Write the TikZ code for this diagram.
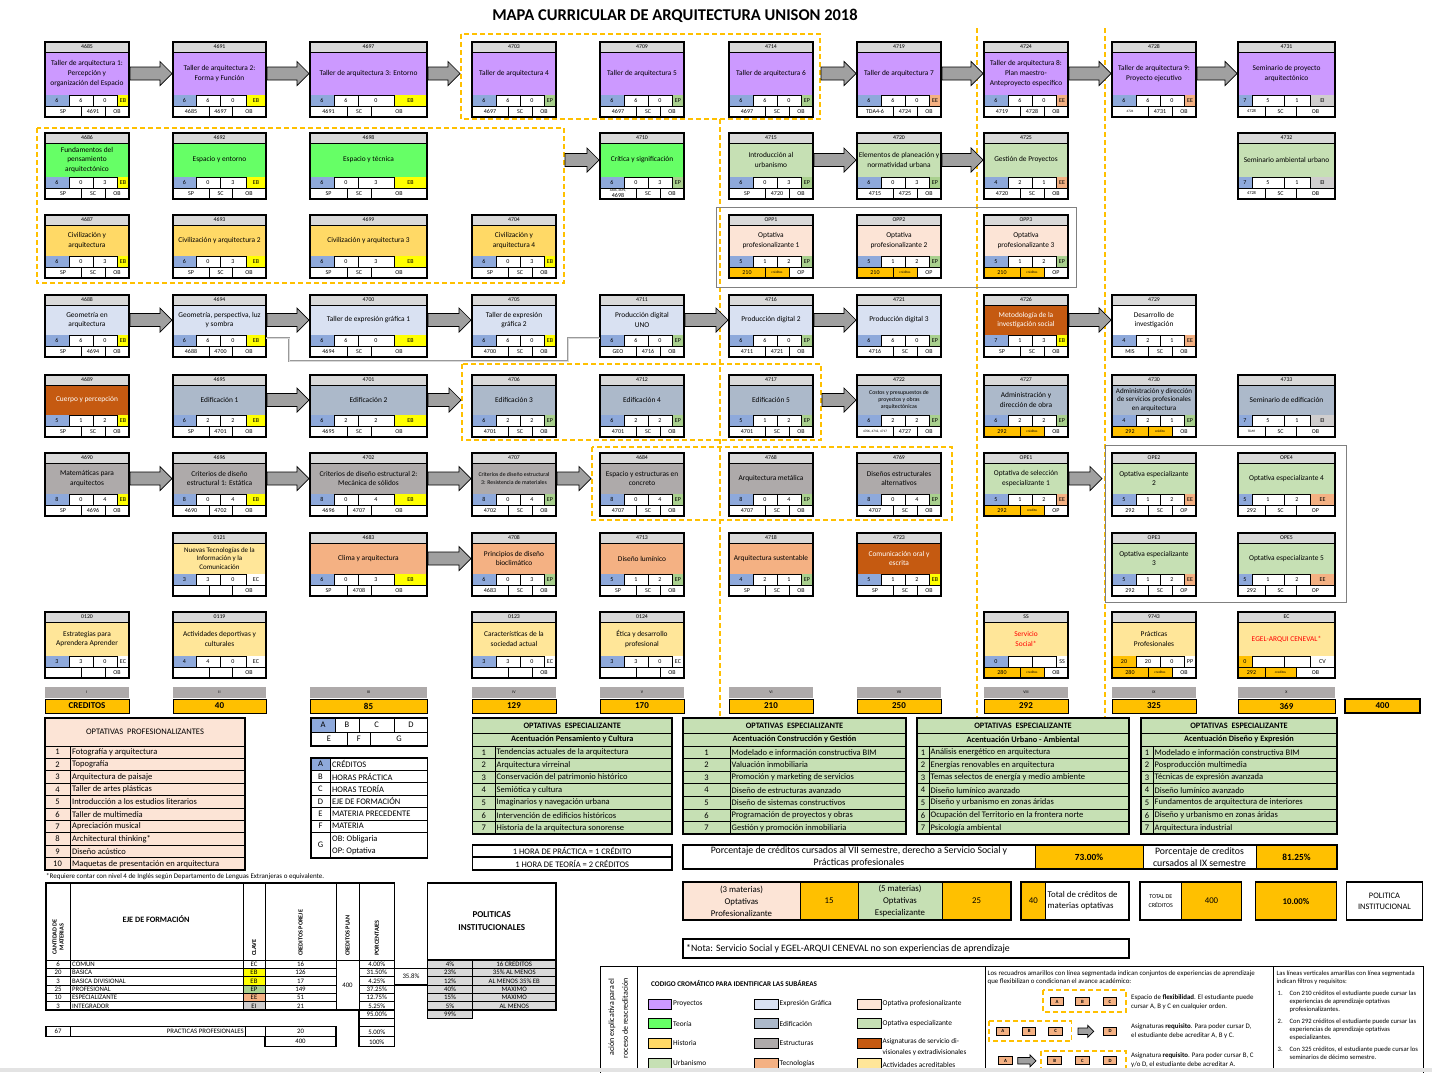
\documentclass[tikz,border=0pt]{standalone}
\usepackage{fontspec}
\setmainfont{Carlito}
\usetikzlibrary{positioning, calc}

\definecolor{proyectos}{RGB}{204,153,255}
\definecolor{teoria}{RGB}{102,255,102}
\definecolor{historia}{RGB}{255,217,102}
\definecolor{urbanismo}{RGB}{198,224,180}
\definecolor{expresion}{RGB}{217,225,242}
\definecolor{edificacion}{RGB}{172,185,202}
\definecolor{estructuras}{RGB}{174,170,170}
\definecolor{tecnologias}{RGB}{244,177,131}
\definecolor{optprof}{RGB}{252,228,214}
\definecolor{optesp}{RGB}{198,224,180}
\definecolor{servicio}{RGB}{197,90,17}
\definecolor{acreditables}{RGB}{255,230,153}
\definecolor{encabezado}{RGB}{217,217,217}
\definecolor{azul}{RGB}{142,169,219}
\definecolor{ejeEB}{RGB}{255,255,0}
\definecolor{ejeEP}{RGB}{169,208,142}
\definecolor{ejeEE}{RGB}{244,177,131}
\definecolor{ejeEI}{RGB}{208,206,206}
\definecolor{ejeEC}{RGB}{255,255,255}
\definecolor{ejeSS}{RGB}{255,255,255}
\definecolor{ejePP}{RGB}{255,255,255}
\definecolor{ejeCV}{RGB}{255,255,255}
\definecolor{naranja}{RGB}{255,192,0}
\definecolor{grisflecha}{RGB}{160,160,160}
\definecolor{grissem}{RGB}{174,170,170}
\definecolor{grispol}{RGB}{217,217,217}
\definecolor{rojo}{RGB}{255,0,0}

\newcommand{\normalcaja}{\fontsize{7.4}{9.8}\selectfont}
\newcommand{\pequena}{\fontsize{5.8}{7.4}\selectfont}
\newcommand{\chica}{\fontsize{4.4}{4.8}\selectfont}
\newcommand{\diminuta}{\fontsize{3.4}{3.9}\selectfont}

\pgfkeys{/materia/.is family, /materia/.cd,
  x/.store in=\mX, y/.store in=\mY, ancho/.store in=\mW, alto/.store in=\mH,
  sa/.store in=\mSa, sb/.store in=\mSb, sc/.store in=\mSc,
  ta/.store in=\mTa, tb/.store in=\mTb,
  colA/.store in=\mColA, colE/.store in=\mColE, colF/.store in=\mColF,
  tinta/.store in=\mTinta, letra/.store in=\mLetra,
  angosta/.style={ancho=84, sa=24, sb=48, sc=72, ta=36, tb=60},
  c1/.style={angosta, x=45},
  c2/.style={x=173, ancho=93, sa=23, sb=47, sc=73, ta=36, tb=59},
  c3/.style={x=310, ancho=117, sa=24, sb=48, sc=84, ta=37, tb=61},
  c4/.style={angosta, x=472},
  c5/.style={angosta, x=600},
  c6/.style={angosta, x=729},
  c7/.style={angosta, x=857},
  c8/.style={angosta, x=984},
  c9/.style={angosta, x=1112},
  c10/.style={x=1238, ancho=97, sa=14, sb=46, sc=72, ta=27, tb=58},
  r1/.style={y=42, alto=75},
  r2/.style={y=133, alto=66},
  r3/.style={y=215, alto=63},
  r4/.style={y=295, alto=62},
  r5/.style={y=375, alto=62},
  r6/.style={y=453, alto=63},
  r7/.style={y=533, alto=63},
  r8/.style={y=612, alto=66}}

\tikzset{
  clave/.style={inner sep=0pt, font=\fontsize{5.8}{6}\selectfont},
  cuerpo/.style={inner sep=1pt, outer sep=0pt, align=center, draw=black, line width=.4pt},
  dato/.style={inner sep=0pt, align=center, font=\fontsize{6}{6.5}\selectfont},
  rejilla/.style={line width=.4pt},
  grupo/.style={draw=naranja, line width=1.6pt, dash pattern=on 5pt off 3pt},
  marco/.style={draw=gray, line width=1pt},
  flecha/.style={draw=black, fill=grisflecha, line width=.7pt},
  enlace/.style={draw=gray!80, double=gray!30, double distance=1pt, line width=.7pt},
  tabla/.style={inner sep=0pt, font=\fontsize{8.5}{9}\selectfont},
  tablan/.style={inner sep=0pt, font=\fontsize{8.3}{9}\selectfont\bfseries},
  celda/.style={inner sep=0pt, font=\fontsize{6.8}{7}\selectfont},
  leyenda/.style={inner sep=0pt, font=\fontsize{7.4}{8}\selectfont},
  nota/.style={inner sep=0pt, align=left, font=\fontsize{6.9}{8.8}\selectfont},
  filtro/.style={inner sep=0pt, align=left, font=\fontsize{6.6}{7.9}\selectfont}
}

\def\celdas#1#2/#3/#4/#5/#6/#7/#8\relax{%
  \fill[fill=\mColA] (\mX,\mYa) rectangle (\mX+\mSa,\mYb);
  \fill[fill=eje#5] (\mX+\mSc,\mYa) rectangle (\mX+\mW,\mYb);
  \fill[fill=\mColE] (\mX,\mYb) rectangle (\mX+\mTa,\mYc);
  \fill[fill=\mColF] (\mX+\mTa,\mYb) rectangle (\mX+\mTb,\mYc);
  \draw[rejilla] (\mX,\mYb) -- (\mX+\mW,\mYb)
    (\mX+\mSa,\mYa) -- (\mX+\mSa,\mYb) (\mX+\mSb,\mYa) -- (\mX+\mSb,\mYb)
    (\mX+\mSc,\mYa) -- (\mX+\mSc,\mYb)
    (\mX+\mTa,\mYb) -- (\mX+\mTa,\mYc) (\mX+\mTb,\mYb) -- (\mX+\mTb,\mYc);
  \node[dato] (#1-a) at (\mX+\mSa/2,\mYa+5.5) {#2};
  \node[dato] (#1-b) at (\mX+\mSa/2+\mSb/2,\mYa+5.5) {#3};
  \node[dato] (#1-cc) at (\mX+\mSb/2+\mSc/2,\mYa+5.5) {#4};
  \node[dato] (#1-d) at (\mX+\mSc/2+\mW/2,\mYa+5.5) {#5};
  \node[dato] (#1-e) at (\mX+\mTa/2,\mYb+5.5) {#6};
  \node[dato] (#1-f) at (\mX+\mTa/2+\mTb/2,\mYb+5.5) {#7};
  \node[dato] (#1-g) at (\mX+\mTb/2+\mW/2,\mYb+5.5) {#8};
}

\newcommand{\materia}[5][]{%
  \pgfkeys{/materia/.cd, colA=azul, colE=white, colF=white, tinta=black,
    letra=\normalcaja, #1}%
  \pgfmathsetmacro{\mYa}{\mY+\mH-22}%
  \pgfmathsetmacro{\mYb}{\mY+\mH-11}%
  \pgfmathsetmacro{\mYc}{\mY+\mH}%
  \pgfmathsetmacro{\mHc}{\mH-32}%
  \filldraw[fill=encabezado, rejilla] (\mX,\mY) rectangle (\mX+\mW,\mY+10);
  \node[clave] (#2-c) at (\mX+\mW/2,\mY+5) {#2};
  \node[cuerpo, fill=#3, text=\mTinta, font=\mLetra, minimum width=\mW pt,
    minimum height=\mHc pt, anchor=north west] (#2) at (\mX,\mY+10) {#4};
  \celdas{#2}#5\relax
  \draw[line width=1.5pt] (\mX,\mY) rectangle (\mX+\mW,\mYc);
}

\newcommand{\flecha}[3][1]{%
  \draw[flecha] let \p1=(#2), \p2=(#3) in
    (\x1+1pt,\y1+6.5*#1pt) -- (\x2-1pt-12*#1pt,\y1+6.5*#1pt)
    -- (\x2-1pt-12*#1pt,\y1+12*#1pt) -- (\x2-1pt,\y1)
    -- (\x2-1pt-12*#1pt,\y1-12*#1pt) -- (\x2-1pt-12*#1pt,\y1-6.5*#1pt)
    -- (\x1+1pt,\y1-6.5*#1pt) -- cycle;}

\newcommand{\tablaesp}[6]{%
  \filldraw[fill=optesp, line width=1.5pt] (#1,718) rectangle (#2,834);
  \draw[line width=.9pt] (#1,733) -- (#2,733) (#1,746) -- (#2,746);
  \node[tablan] (#5-t) at ({(#1+#2)/2},725.5) {OPTATIVAS\ \ ESPECIALIZANTE};
  \node[tablan] (#5-s) at ({(#1+#2)/2},739.5) {Acentuación #4};
  \foreach \t [count=\i] in {#6}{
    \pgfmathsetmacro{\yy}{746+(\i-1)*12.6}
    \draw[line width=.9pt] (#1,\yy) rectangle (#2,\yy+12.6) (#3,\yy) -- (#3,\yy+12.6);
    \node[tabla] (#5-n\i) at ({(#1+#3)/2},\yy+6.3) {\i};
    \node[tabla, anchor=west] (#5-\i) at (#3+1.5,\yy+6.3) {\t};
  }
}

\begin{document}
\begin{tikzpicture}[x=1pt, y=-1pt]
\useasboundingbox (0,0) rectangle (1432,1072);
\fill[white] (0,0) rectangle (1432,1072);

\node[font=\fontsize{16.5}{19}\selectfont\bfseries] (titulo) at (675,16) {MAPA CURRICULAR DE ARQUITECTURA UNISON 2018};

% grupos y filtros
\draw[grupo] (461,34) rectangle (820,119);
\draw[grupo] (37,128) rectangle (564,283);
\draw[grupo] (462,364) rectangle (821,440);
\draw[grupo] (592,447) rectangle (952,520);
\draw[grupo] (720,119) -- (720,722);
\draw[grupo] (977,28) -- (977,722);
\draw[grupo] (1105,28) -- (1105,722);
\draw[marco] (716,207) rectangle (1076,287);
\draw[marco] (1105,445) rectangle (1346,602);
\coordinate (flex1w) at (461,0);
\coordinate (flex1e) at (820,0);
\coordinate (flex2e) at (564,0);
\coordinate (flex3w) at (462,0);
\coordinate (flex3e) at (821,0);
\coordinate (flex4w) at (592,0);
\coordinate (opeg) at (1103,0);

% primer renglon
\materia[c1,r1]{4685}{proyectos}{Taller de arquitectura 1:\\Percepción y\\organización del Espacio}{6/6/0/EB/SP/4691/OB}
\materia[c2,r1]{4691}{proyectos}{Taller de arquitectura 2:\\Forma y Función}{6/6/0/EB/4685/4697/OB}
\materia[c3,r1]{4697}{proyectos}{Taller de arquitectura 3: Entorno}{6/6/0/EB/4691/SC/OB}
\materia[c4,r1]{4703}{proyectos}{Taller de arquitectura 4}{6/6/0/EP/4697/SC/OB}
\materia[c5,r1]{4709}{proyectos}{Taller de arquitectura 5}{6/6/0/EP/4697/SC/OB}
\materia[c6,r1]{4714}{proyectos}{Taller de arquitectura 6}{6/6/0/EP/4697/SC/OB}
\materia[c7,r1]{4719}{proyectos}{Taller de arquitectura 7}{6/6/0/EE/TDA4-6/4724/OB}
\materia[c8,r1]{4724}{proyectos}{Taller de arquitectura 8:\\Plan maestro-\\Anteproyecto específico}{6/6/0/EE/4719/4728/OB}
\materia[c9,r1]{4728}{proyectos}{Taller de arquitectura 9:\\Proyecto ejecutivo}{6/6/0/EE/{\diminuta 4724}/4731/OB}
\materia[c10,r1]{4731}{proyectos}{Seminario de proyecto\\arquitectónico}{7/5/1/EI/{\chica 4728}/SC/OB}

\materia[c1,r2]{4686}{teoria}{Fundamentos del\\pensamiento\\arquitectónico}{6/0/3/EB/SP/SC/OB}
\materia[c2,r2]{4692}{teoria}{Espacio y entorno}{6/0/3/EB/SP/SC/OB}
\materia[c3,r2]{4698}{teoria}{Espacio y técnica}{6/0/3/EB/SP/SC/OB}
\materia[c5,r2]{4710}{teoria}{Crítica y significación}{6/0/3/EP/{\diminuta 4686, 4692,\\4698}/SC/OB}
\materia[c6,r2]{4715}{urbanismo}{Introducción al\\urbanismo}{6/0/3/EP/SP/4720/OB}
\materia[c7,r2]{4720}{urbanismo}{Elementos de planeación y\\normatividad urbana}{6/0/3/EP/4715/4725/OB}
\materia[c8,r2]{4725}{urbanismo}{Gestión de Proyectos}{4/2/1/EE/4720/SC/OB}
\materia[c10,r2]{4732}{urbanismo}{Seminario ambiental urbano}{7/5/1/EI/{\chica 4728}/SC/OB}

\materia[c1,r3]{4687}{historia}{Civilización y\\arquitectura}{6/0/3/EB/SP/SC/OB}
\materia[c2,r3]{4693}{historia}{Civilización y arquitectura 2}{6/0/3/EB/SP/SC/OB}
\materia[c3,r3]{4699}{historia}{Civilización y arquitectura 3}{6/0/3/EB/SP/SC/OB}
\materia[c4,r3]{4704}{historia}{Civilización y\\arquitectura 4}{6/0/3/EB/SP/SC/OB}
\materia[c6,r3,colE=naranja,colF=naranja]{OPP1}{optprof}{Optativa\\profesionalizante 1}{5/1/2/EP/210/{\diminuta créditos}/OP}
\materia[c7,r3,colE=naranja,colF=naranja]{OPP2}{optprof}{Optativa\\profesionalizante 2}{5/1/2/EP/210/{\diminuta créditos}/OP}
\materia[c8,r3,colE=naranja,colF=naranja]{OPP3}{optprof}{Optativa\\profesionalizante 3}{5/1/2/EP/210/{\diminuta créditos}/OP}

\materia[c1,r4]{4688}{expresion}{Geometría en\\arquitectura}{6/6/0/EB/SP/4694/OB}
\materia[c2,r4]{4694}{expresion}{Geometría, perspectiva, luz\\y sombra}{6/6/0/EB/4688/4700/OB}
\materia[c3,r4]{4700}{expresion}{Taller de expresión gráfica 1}{6/6/0/EB/4694/SC/OB}
\materia[c4,r4]{4705}{expresion}{Taller de expresión\\gráfica 2}{6/6/0/EB/4700/SC/OB}
\materia[c5,r4]{4711}{expresion}{Producción digital\\UNO}{6/6/0/EP/GEO/4716/OB}
\materia[c6,r4]{4716}{expresion}{Producción digital 2}{6/6/0/EP/4711/4721/OB}
\materia[c7,r4]{4721}{expresion}{Producción digital 3}{6/6/0/EP/4716/SC/OB}
\materia[c8,r4,tinta=white]{4726}{servicio}{Metodología de la\\investigación social}{7/1/3/EB/SP/SC/OB}
\materia[c9,r4]{4729}{white}{Desarrollo de\\investigación}{4/2/1/EE/MIS/SC/OB}

\materia[c1,r5,tinta=white]{4689}{servicio}{Cuerpo y percepción}{5/1/2/EB/SP/SC/OB}
\materia[c2,r5]{4695}{edificacion}{Edificación 1}{6/2/2/EB/SP/4701/OB}
\materia[c3,r5]{4701}{edificacion}{Edificación 2}{6/2/2/EB/4695/SC/OB}
\materia[c4,r5]{4706}{edificacion}{Edificación 3}{6/2/2/EP/4701/SC/OB}
\materia[c5,r5]{4712}{edificacion}{Edificación 4}{6/2/2/EP/4701/SC/OB}
\materia[c6,r5]{4717}{edificacion}{Edificación 5}{5/1/2/EP/4701/SC/OB}
\materia[c7,r5,letra=\pequena]{4722}{edificacion}{Costos y presupuestos de\\proyectos y obras\\arquitectónicas}{6/2/2/EP/{\diminuta 4706, 4712, 4717}/4727/OB}
\materia[c8,r5,colE=naranja,colF=naranja]{4727}{edificacion}{Administración y\\dirección de obra}{6/2/2/EP/292/{\diminuta créditos}/OB}
\materia[c9,r5,colE=naranja,colF=naranja,letra=\fontsize{7.1}{8.9}\selectfont]{4730}{edificacion}{Administración y dirección\\de servicios profesionales\\en arquitectura}{4/2/1/EP/292/{\diminuta crédito}/OB}
\materia[c10,r5]{4733}{edificacion}{Seminario de edificación}{7/5/1/EI/{\diminuta TDA9}/SC/OB}

\materia[c1,r6]{4690}{estructuras}{Matemáticas para\\arquitectos}{8/0/4/EB/SP/4696/OB}
\materia[c2,r6]{4696}{estructuras}{Criterios de diseño\\estructural 1: Estática}{8/0/4/EB/4690/4702/OB}
\materia[c3,r6]{4702}{estructuras}{Criterios de diseño estructural 2:\\Mecánica de sólidos}{8/0/4/EB/4696/4707/OB}
\materia[c4,r6,letra=\pequena]{4707}{estructuras}{Criterios de diseño estructural\\3: Resistencia de materiales}{8/0/4/EP/4702/SC/OB}
\materia[c5,r6]{4684}{estructuras}{Espacio y estructuras en\\concreto}{8/0/4/EP/4707/SC/OB}
\materia[c6,r6]{4768}{estructuras}{Arquitectura metálica}{8/0/4/EP/4707/SC/OB}
\materia[c7,r6]{4769}{estructuras}{Diseños estructurales\\alternativos}{8/0/4/EP/4707/SC/OB}
\materia[c8,r6,colE=naranja,colF=naranja]{OPE1}{optesp}{Optativa de selección\\especializante 1}{5/1/2/EE/292/{\diminuta credito}/OP}
\materia[c9,r6]{OPE2}{optesp}{Optativa especializante\\2}{5/1/2/EE/292/SC/OP}
\materia[c10,r6]{OPE4}{optesp}{Optativa especializante 4}{5/1/2/EE/292/SC/OP}

\materia[c2,r7,letra=\fontsize{7}{8.7}\selectfont]{0121}{acreditables}{Nuevas Tecnologías de la\\Información y la\\Comunicación}{3/3/0/EC///OB}
\materia[c3,r7]{4683}{tecnologias}{Clima y arquitectura}{6/0/3/EB/SP/4708/OB}
\materia[c4,r7]{4708}{tecnologias}{Principios de diseño\\bioclimático}{6/0/3/EP/4683/SC/OB}
\materia[c5,r7]{4713}{tecnologias}{Diseño lumínico}{5/1/2/EP/SP/SC/OB}
\materia[c6,r7]{4718}{tecnologias}{Arquitectura sustentable}{4/2/1/EP/SP/SC/OB}
\materia[c7,r7,tinta=white]{4723}{servicio}{Comunicación oral y\\escrita}{5/1/2/EB/SP/SC/OB}
\materia[c9,r7]{OPE3}{optesp}{Optativa especializante\\3}{5/1/2/EE/292/SC/OP}
\materia[c10,r7]{OPE5}{optesp}{Optativa especializante 5}{5/1/2/EE/292/SC/OP}

\materia[c1,r8]{0120}{acreditables}{Estrategias para\\Aprendera Aprender}{3/3/0/EC///OB}
\materia[c2,r8]{0119}{acreditables}{Actividades deportivas y\\culturales}{4/4/0/EC///OB}
\materia[c4,r8]{0123}{acreditables}{Características de la\\sociedad actual}{3/3/0/EC///OB}
\materia[c5,r8]{0124}{acreditables}{Ética y desarrollo\\profesional}{3/3/0/EC///OB}
\materia[c8,r8,tinta=rojo,colE=naranja,colF=naranja]{SS}{acreditables}{Servicio\\Social*}{0///SS/280/{\diminuta creditos}/OB}
\materia[c9,r8,colA=naranja,colE=naranja,colF=naranja]{9743}{acreditables}{Prácticas\\Profesionales}{20/20/0/PP/280/{\diminuta creditos}/OB}
\materia[c10,r8,tinta=rojo,colA=naranja,colE=naranja,colF=naranja]{EC}{acreditables}{EGEL-ARQUI CENEVAL*}{0///CV/292/{\diminuta creditos}/OB}

% seriacion
\flecha{4685.east}{4691.west}
\flecha{4691.east}{4697.west}
\flecha{4697.east}{flex1w}
\flecha{flex1e |- 4719.west}{4719.west}
\flecha{4719.east}{4724.west}
\flecha{4724.east}{4728.west}
\flecha{4728.east}{4731.west}
\flecha{flex2e |- 4710.west}{4710.west}
\flecha{4715.east}{4720.west}
\flecha{4720.east}{4725.west}
\flecha{4688.east}{4694.west}
\flecha{4694.east}{4700.west}
\flecha{4700.east}{4705.west}
\flecha{4711.east}{4716.west}
\flecha{4716.east}{4721.west}
\flecha{4726.east}{4729.west}
\flecha{4695.east}{4701.west}
\flecha{4701.east}{flex3w}
\flecha{flex3e |- 4722.west}{4722.west}
\flecha{4690.east}{4696.west}
\flecha{4696.east}{4702.west}
\flecha{4702.east}{4707.west}
\flecha{4707.east}{flex4w}
\flecha{OPE1.east}{opeg}
\flecha{4683.east}{4708.west}
\draw[enlace] ([yshift=-3pt]4694.south east) -- ++(23,0) |- (568,361) |- ([yshift=-3pt]4711.south west);

% semestres
\foreach \x/\w/\r/\c [count=\i] in {45/84/I/CREDITOS, 173/93/II/40, 310/117/III/85, 472/84/IV/129, 600/84/V/170, 729/84/VI/210, 857/84/VII/250, 984/84/VIII/292, 1112/84/IX/325, 1238/97/X/369}{
  \fill[grissem] (\x,687) rectangle ++(\w,11);
  \node[inner sep=0pt, font=\fontsize{4}{4.5}\selectfont] (sem\i) at (\x+\w/2,692.5) {\r};
  \filldraw[fill=naranja, line width=1pt] (\x,699) rectangle ++(\w,14);
  \node[inner sep=0pt, font=\fontsize{9}{10}\selectfont\bfseries] (cred\i) at (\x+\w/2,706) {\c};
}
\filldraw[fill=naranja, line width=2.2pt] (1345,699) rectangle (1420,713);
\node[inner sep=0pt, font=\fontsize{9}{10}\selectfont\bfseries] (cred11) at (1382.5,706) {400};

% optativas profesionalizantes
\filldraw[fill=optprof, line width=1.5pt] (45,718) rectangle (245,870);
\node[tabla] (tprof) at (145,732) {OPTATIVAS\ \ PROFESIONALIZANTES};
\foreach \t [count=\i] in {Fotografía y arquitectura, Topografía, Arquitectura de paisaje, Taller de artes plásticas, Introducción a los estudios literarios, Taller de multimedia, Apreciación musical, Architectural thinking*, Diseño acústico, Maquetas de presentación en arquitectura}{
  \pgfmathsetmacro{\yy}{746+(\i-1)*12.4}
  \draw[line width=.9pt] (45,\yy) rectangle (245,\yy+12.4) (70,\yy) -- (70,\yy+12.4);
  \node[tabla] (pn\i) at (57.5,\yy+6.2) {\i};
  \node[tabla, anchor=west] (pt\i) at (72,\yy+6.2) {\t};
}
\node[inner sep=0pt, anchor=west, font=\fontsize{7}{7}\selectfont] (req) at (46,876.5) {*Requiere contar con nivel 4 de Inglés según Departamento de Lenguas Extranjeras o equivalente.};

% claves A-G
\fill[azul] (311,718) rectangle (335,732);
\draw[line width=1.5pt] (311,718) rectangle (427.5,746);
\draw[line width=.9pt] (311,732) -- (427.5,732) (335,718) -- (335,732) (359,718) -- (359,732) (394.5,718) -- (394.5,732) (347,732) -- (347,746) (370.6,732) -- (370.6,746);
\foreach \l/\xx/\yy in {A/323/725, B/347/725, C/376.75/725, D/411/725, E/329/739, F/358.8/739, G/399/739}{
  \node[tabla] (l\l) at (\xx,\yy) {\l};
}
\fill[azul] (311,758) rectangle (330,770.4);
\draw[line width=1.5pt] (311,758) rectangle (427.5,858);
\draw[line width=.9pt] (330,758) -- (330,858);
\foreach \l/\t [count=\i] in {A/CRÉDITOS, B/HORAS PRÁCTICA, C/HORAS TEORÍA, D/EJE DE FORMACIÓN, E/MATERIA PRECEDENTE, F/MATERIA}{
  \pgfmathsetmacro{\yy}{758+(\i-1)*12.4}
  \draw[line width=.9pt] (311,\yy+12.4) -- (427.5,\yy+12.4);
  \node[tabla] (k\l) at (320.5,\yy+6.2) {\l};
  \node[tabla, anchor=west] (kt\l) at (332,\yy+6.2) {\t};
}
\node[tabla] (kG) at (320.5,845.2) {G};
\node[tabla, anchor=west] (ktG1) at (332,839) {OB: Obligaria};
\node[tabla, anchor=west] (ktG2) at (332,851.5) {OP: Optativa};

% optativas especializantes
\tablaesp{472.5}{672}{495}{Pensamiento y Cultura}{te1}{Tendencias actuales de la arquitectura, Arquitectura virreinal, Conservación del patrimonio histórico, Semiótica y cultura, Imaginarios y navegación urbana, Intervención de edificios históricos, Historia de la arquitectura sonorense}
\tablaesp{683}{906}{730}{Construcción y Gestión}{te2}{Modelado e información constructiva BIM, Valuación inmobiliaria, Promoción y marketing de servicios, Diseño de estructuras avanzado, Diseño de sistemas constructivos, Programación de proyectos y obras, Gestión y promoción inmobiliaria}
\tablaesp{917}{1129}{929}{Urbano - Ambiental}{te3}{Análisis energético en arquitectura, Energías renovables en arquitectura, Temas selectos de energía y medio ambiente, Diseño lumínico avanzado, Diseño y urbanismo en zonas áridas, Ocupación del Territorio en la frontera norte, Psicología ambiental}
\tablaesp{1141}{1337}{1153}{Diseño y Expresión}{te4}{Modelado e información constructiva BIM, Posproducción multimedia, Técnicas de expresión avanzada, Diseño lumínico avanzado, Fundamentos de arquitectura de interiores, Diseño y urbanismo en zonas áridas, Arquitectura industrial}

\draw[line width=1.5pt] (472.5,845) rectangle (672,857) (472.5,857) rectangle (672,870);
\node[tabla] (hp) at (572.25,851) {1 HORA DE PRÁCTICA = 1 CRÉDITO};
\node[tabla] (ht) at (572.25,863.5) {1 HORA DE TEORÍA = 2 CRÉDITOS};

\fill[naranja] (1035,845) rectangle (1143,869) (1256,845) rectangle (1337,869);
\draw[line width=.9pt] (1035,845) -- (1035,869) (1143,845) -- (1143,869) (1256,845) -- (1256,869);
\draw[line width=1.5pt] (683,845) rectangle (1337,869);
\node[inner sep=0pt, align=center, font=\fontsize{9.8}{12}\selectfont] (por7) at (859,857) {Porcentaje de créditos cursados al VII semestre, derecho a Servicio Social y\\Prácticas profesionales};
\node[inner sep=0pt, font=\fontsize{9.3}{10}\selectfont\bfseries] (por7v) at (1089,857) {73.00\%};
\node[inner sep=0pt, align=center, font=\fontsize{9.8}{12}\selectfont] (por9) at (1199.5,857) {Porcentaje de creditos\\cursados al IX semestre};
\node[inner sep=0pt, font=\fontsize{9.3}{10}\selectfont\bfseries] (por9v) at (1296.5,857) {81.25\%};

% totales de optativas
\fill[optprof] (683,882) rectangle (800,920);
\fill[naranja] (800,882) rectangle (858,920);
\fill[optesp] (858,882) rectangle (942,920);
\fill[naranja] (942,882) rectangle (1011,920);
\draw[line width=.9pt] (800,882) -- (800,920) (858,882) -- (858,920) (942,882) -- (942,920);
\draw[line width=1.5pt] (683,882) rectangle (1011,920);
\node[inner sep=0pt, align=center, font=\fontsize{8.8}{11.8}\selectfont] (tp) at (741.5,901) {(3 materias)\\Optativas\\Profesionalizante};
\node[inner sep=0pt, font=\fontsize{8.8}{10}\selectfont] (tp15) at (829,901) {15};
\node[inner sep=0pt, align=center, font=\fontsize{8.8}{11.8}\selectfont] (te) at (900,901) {(5 materias)\\Optativas\\Especializante};
\node[inner sep=0pt, font=\fontsize{8.8}{10}\selectfont] (te25) at (976.5,901) {25};
\fill[naranja] (1021,882) rectangle (1045.5,920);
\draw[line width=.9pt] (1045.5,882) -- (1045.5,920);
\draw[line width=1.5pt] (1021,882) rectangle (1129,920);
\node[inner sep=0pt, font=\fontsize{8.8}{10}\selectfont] (to40) at (1033.25,901) {40};
\node[inner sep=0pt, align=left, anchor=west, font=\fontsize{8.8}{11}\selectfont] (tot) at (1047.5,901) {Total de créditos de\\materias optativas};
\fill[naranja] (1181.5,882) rectangle (1241.5,920);
\draw[line width=.9pt] (1181.5,882) -- (1181.5,920);
\draw[line width=1.5pt] (1140,882) rectangle (1241.5,920);
\node[inner sep=0pt, align=center, font=\fontsize{6}{9}\selectfont] (totc) at (1160.75,901) {TOTAL DE\\CRÉDITOS};
\node[inner sep=0pt, font=\fontsize{8.8}{10}\selectfont] (tot400) at (1211.5,901) {400};
\filldraw[fill=naranja, line width=1.5pt] (1255.5,882) rectangle (1336.5,920);
\node[inner sep=0pt, font=\fontsize{8.8}{10}\selectfont\bfseries] (pol10) at (1296,901) {10.00\%};
\draw[line width=1.5pt] (1346.5,882) rectangle (1422.5,920);
\node[inner sep=0pt, align=center, font=\fontsize{8.4}{11}\selectfont] (polinst) at (1384.5,901) {POLITICA\\INSTITUCIONAL};
\draw[line width=1.2pt] (683,939) rectangle (1129,958);
\node[inner sep=0pt, anchor=west, font=\fontsize{9.8}{10}\selectfont] (nota) at (686,948.5) {*Nota: Servicio Social y EGEL-ARQUI CENEVAL no son experiencias de aprendizaje};

% ejes de formacion
\foreach \n/\e/\k/\c/\p [count=\i] in {6/COMUN/EC/16/4.00\%, 20/BASICA/EB/126/31.50\%, 3/BASICA DIVISIONAL/EB/17/4.25\%, 25/PROFESIONAL/EP/149/37.25\%, 10/ESPECIALIZANTE/EE/51/12.75\%, 3/INTEGRADOR/EI/21/5.25\%}{
  \pgfmathsetmacro{\yy}{960+(\i-1)*8.33}
  \fill[fill=eje\k] (243,\yy) rectangle (265,\yy+8.33);
  \node[celda] (en\i) at (58,\yy+4.2) {\n};
  \node[celda, anchor=west] (ee\i) at (72,\yy+4.2) {\e};
  \node[celda] (ek\i) at (254,\yy+4.2) {\k};
  \node[celda] (ec\i) at (300.5,\yy+4.2) {\c};
  \node[celda] (ep\i) at (376.75,\yy+4.2) {\p};
  \draw[line width=.8pt] (46,\yy) -- (336,\yy) (359,\yy) -- (394.5,\yy);
}
\draw[line width=.9pt] (46,960) -- (394.5,960);
\foreach \xx in {70,243,265,336,359}{
  \draw[line width=.9pt] (\xx,883) -- (\xx,1010);
}
\draw[line width=1.5pt] (46,883) rectangle (394.5,1010);
\node[inner sep=0pt, align=center, anchor=west, rotate=90, font=\fontsize{6.2}{7}\selectfont\bfseries] (hcant) at (58,955) {CANTIDAD DE\\MATERIAS};
\node[inner sep=0pt, font=\fontsize{8.2}{9}\selectfont\bfseries] (heje) at (156,919) {EJE DE FORMACIÓN};
\node[inner sep=0pt, anchor=west, rotate=90, font=\fontsize{6.2}{7}\selectfont\bfseries] (hclave) at (254,956) {CLAVE};
\node[inner sep=0pt, anchor=west, rotate=90, font=\fontsize{6.2}{7}\selectfont\bfseries] (hcpe) at (300.5,956) {CREDITOS POREJE};
\node[inner sep=0pt, anchor=west, rotate=90, font=\fontsize{6.2}{7}\selectfont\bfseries] (hcpl) at (347.5,956) {CREDITOS PLAN};
\node[inner sep=0pt, anchor=west, rotate=90, font=\fontsize{6.2}{7}\selectfont\bfseries] (hpor) at (376.75,956) {PORCENTAJES};
\node[celda] (plan400) at (347.5,985) {400};
\draw[line width=1.5pt] (394.5,968.3) rectangle (427.5,985);
\node[celda] (p358) at (411,976.6) {35.8\%};
\draw[line width=1.5pt] (359,1010) rectangle (394.5,1046.7);
\draw[line width=.8pt] (359,1018.5) -- (394.5,1018.5) (359,1026.7) -- (394.5,1026.7) (359,1036.7) -- (394.5,1036.7);
\node[celda] (p95) at (376.75,1014.3) {95.00\%};
\node[celda] (p5) at (376.75,1031.7) {5.00\%};
\node[celda] (p100) at (376.75,1041.7) {100\%};
\draw[line width=1.5pt] (46,1026.7) rectangle (336,1036.7) (265,1036.7) rectangle (336,1046.7);
\draw[line width=.9pt] (70,1026.7) -- (70,1036.7) (245,1026.7) -- (245,1036.7) (265,1026.7) -- (265,1036.7);
\node[celda] (pp67) at (58,1031.7) {67};
\node[celda, anchor=east] (pp) at (244,1031.7) {PRACTICAS PROFESIONALES};
\node[celda] (pp20) at (300.5,1031.7) {20};
\node[celda] (pp400) at (300.5,1041.7) {400};

% politicas
\draw[line width=1.5pt] (427.5,883) rectangle (556,960);
\node[inner sep=0pt, align=center, font=\fontsize{9}{13}\selectfont\bfseries] (polit) at (491.75,921.5) {POLITICAS\\INSTITUCIONALES};
\foreach \a/\b [count=\i] in {4\%/16 CREDITOS, 23\%/35\% AL MENOS, 12\%/AL MENOS 35\% EB, 40\%/MAXIMO, 15\%/MAXIMO, 5\%/AL MENOS}{
  \pgfmathsetmacro{\yy}{960+(\i-1)*8.33}
  \filldraw[fill=grispol, line width=.8pt] (427.5,\yy) rectangle (472.5,\yy+8.33) (472.5,\yy) rectangle (556,\yy+8.33);
  \node[celda] (pa\i) at (450,\yy+4.2) {\a};
  \node[celda] (pb\i) at (514.25,\yy+4.2) {\b};
}
\draw[line width=1.5pt] (427.5,960) rectangle (556,1010);
\filldraw[fill=grispol, line width=1.5pt] (427.5,1010) rectangle (472.5,1018.5);
\node[celda] (pa99) at (450,1014.3) {99\%};

% codigo cromatico
\draw[line width=.8pt] (600.5,966) rectangle (1423,1080);
\draw[line width=.8pt] (637,966) -- (637,1072) (985,966) -- (985,1072) (1273,966) -- (1273,1072);
\node[inner sep=0pt, anchor=east, rotate=90, font=\fontsize{8}{8}\selectfont] (rot1) at (612,978) {ación explicativa para el};
\node[inner sep=0pt, anchor=east, rotate=90, font=\fontsize{8}{8}\selectfont] (rot2) at (625,978) {roceso de reacreditación};
\node[inner sep=0pt, anchor=west, font=\fontsize{7.2}{8}\selectfont\bfseries] (cod) at (651,983) {CODIGO CROMÁTICO PARA IDENTIFICAR LAS SUBÁREAS};
\foreach \c/\t [count=\i] in {proyectos/Proyectos, teoria/Teoría, historia/Historia, urbanismo/Urbanismo}{
  \pgfmathsetmacro{\yy}{1004+(\i-1)*19.7}
  \filldraw[fill=\c, line width=.8pt] (648,\yy-5) rectangle (671.5,\yy+5);
  \node[leyenda, anchor=west] (lx\i) at (673,\yy) {\t};
}
\foreach \c/\t [count=\i] in {expresion/Expresión Gráfica, edificacion/Edificación, estructuras/Estructuras, tecnologias/Tecnologías}{
  \pgfmathsetmacro{\yy}{1004+(\i-1)*19.7}
  \filldraw[fill=\c, line width=.8pt] (754,\yy-5) rectangle (778,\yy+5);
  \node[leyenda, anchor=west] (ly\i) at (779.5,\yy) {\t};
}
\filldraw[fill=optprof, line width=.8pt] (857.5,999) rectangle (881,1009);
\filldraw[fill=optesp, line width=.8pt] (857.5,1018.7) rectangle (881,1028.7);
\filldraw[fill=servicio, line width=.8pt] (857.5,1038.4) rectangle (881,1048.4);
\filldraw[fill=acreditables, line width=.8pt] (857.5,1058.1) rectangle (881,1068.1);
\node[leyenda, anchor=west] (lz1) at (882.5,1004) {Optativa profesionalizante};
\node[leyenda, anchor=west] (lz2) at (882.5,1023.7) {Optativa especializante};
\node[leyenda, anchor=north west, align=left, font=\fontsize{7.2}{11}\selectfont] (lz3) at (882.5,1038) {Asignaturas de servicio di-\\visionales y extradivisionales};
\node[leyenda, anchor=west] (lz4) at (882.5,1064.5) {Actividades acreditables};

\node[nota, anchor=north west] (recuadros) at (987.5,970) {Los recuadros amarillos con línea segmentada indican conjuntos de experiencias de aprendizaje\\que flexibilizan o condicionan el avance académico:};
\draw[grupo, line width=1.3pt] (1043,990) rectangle (1126,1012);
\draw[grupo, line width=1.3pt] (989,1021) rectangle (1071.6,1041);
\draw[grupo, line width=1.3pt] (1041,1051) rectangle (1126,1078);
\foreach \l/\xx/\yy/\n in {A/1057/1001.5/1, B/1082.5/1001.5/1, C/1110/1001.5/1, A/1002.8/1031.3/2, B/1029.2/1031.3/2, C/1055.7/1031.3/2, D/1110/1031.3/2, A/1005.5/1060.8/3, B/1054.6/1060.8/3, C/1082.5/1060.8/3, D/1110/1060.8/3}{
  \node[draw, line width=1pt, fill=tecnologias, minimum width=13.5pt, minimum height=8pt, inner sep=0pt, font=\fontsize{4.8}{5}\selectfont\bfseries] (m\l\n) at (\xx,\yy) {\l};
}
\coordinate (mg2) at (1077,0);
\coordinate (mg3) at (1037,0);
\flecha[.5]{mg2 |- mC2.east}{[xshift=-8pt]mD2.west}
\flecha[.5]{[xshift=4pt]mA3.east}{mg3}
\node[nota, anchor=west] (flexi) at (1131,1002.5) {Espacio de \textbf{flexibilidad}. El estudiante puede\\cursar A, B y C en cualquier orden.};
\node[nota, anchor=west] (req1) at (1131,1031.3) {Asignaturas \textbf{requisito}. Para poder cursar D,\\el estudiante debe acreditar A, B y C.};
\node[nota, anchor=west] (req2) at (1131,1060.5) {Asignatura \textbf{requisito}. Para poder cursar B, C\\y/o D, el estudiante debe acreditar A.};

\node[filtro, anchor=north west, font=\fontsize{6.6}{8.6}\selectfont] (lineas) at (1276.5,970.5) {Las líneas verticales amarillas con línea segmentada\\indican filtros y requisitos:};
\node[filtro, anchor=north west] (f1) at (1277.5,991) {1.};
\node[filtro, anchor=north west] (f1t) at (1289.5,991) {Con 210 créditos el estudiante puede cursar las\\experiencias de aprendizaje optativas\\profesionalizantes.};
\node[filtro, anchor=north west] (f2) at (1277.5,1019) {2.};
\node[filtro, anchor=north west] (f2t) at (1289.5,1019) {Con 292 créditos el estudiante puede cursar las\\experiencias de aprendizaje optativas\\especializantes.};
\node[filtro, anchor=north west] (f3) at (1277.5,1047) {3.};
\node[filtro, anchor=north west] (f3t) at (1289.5,1047) {Con 325 créditos, el estudiante puede cursar los\\seminarios de décimo semestre.};

\fill[gray!22] (0,1067.5) rectangle (1432,1072);
\end{tikzpicture}
\end{document}
